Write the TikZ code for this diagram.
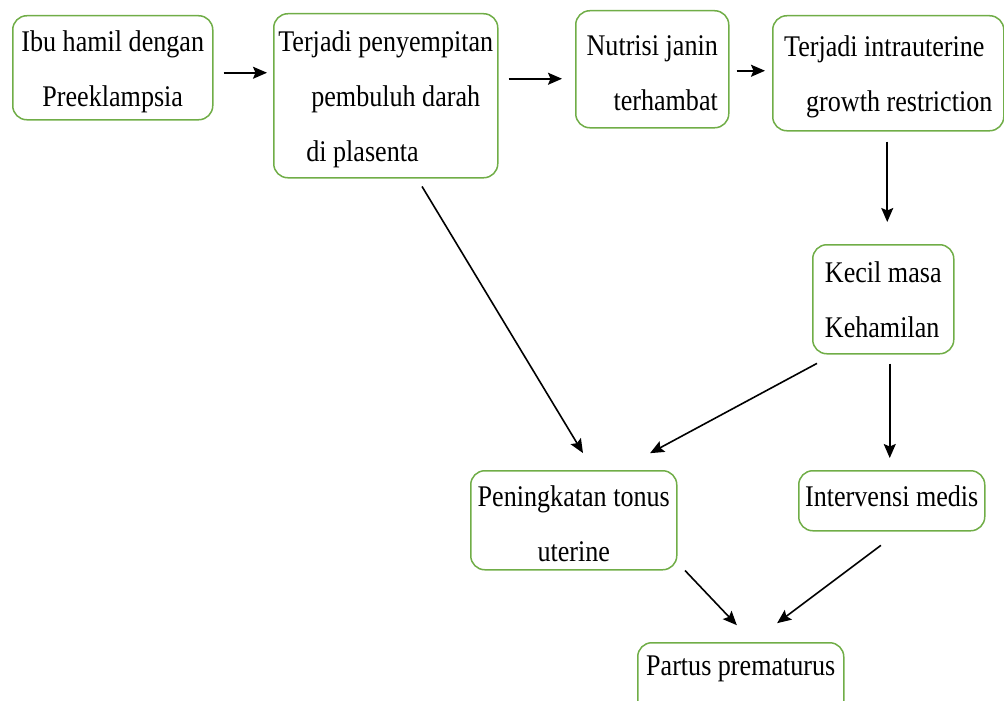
\documentclass[tikz,border=0pt]{standalone}
\usepackage{fontspec}
\newfontfamily\diafont{Liberation Serif}[FakeStretch=0.87]
\usetikzlibrary{arrows.meta}
\definecolor{boxgreen}{RGB}{112,173,71}
\newcommand\topstrut{\rule{0pt}{28pt}}
\tikzset{
  box/.style={draw=boxgreen, line width=1.5pt, rounded corners=14pt, inner sep=0pt,
    anchor=north west, font=\diafont\fontsize{30}{55}\selectfont},
  arr/.style={draw=black, line width=1.6pt, -{Stealth[length=14pt,width=12pt,inset=2.5pt]}}
}
\begin{document}
\begin{tikzpicture}[x=1pt,y=-1pt]
\useasboundingbox (0,0) rectangle (1004,701);
\node[box, minimum width=200pt, minimum height=104pt, align=center] (b1) at (12,15)
  {\topstrut Ibu hamil dengan\\Preeklampsia};
\node[box, minimum width=224pt, minimum height=164pt, align=left] (b2) at (273,13)
  {\topstrut Terjadi penyempitan\\\hspace*{33pt}pembuluh darah\\\hspace*{28pt}di plasenta};
\node[box, minimum width=153pt, minimum height=117pt, align=right] (b3) at (575,10)
  {\topstrut Nutrisi janin\\terhambat};
\node[box, minimum width=231pt, minimum height=115pt, align=left] (b4) at (772,15)
  {\topstrut Terjadi intrauterine\\\hspace*{22pt}growth restriction};
\node[box, minimum width=141pt, minimum height=109pt, align=left] (b5) at (812,244)
  {Kecil masa\\Kehamilan};
\node[box, minimum width=206pt, minimum height=99pt, align=center] (b6) at (470,470)
  {\topstrut Peningkatan tonus\\uterine};
\node[box, minimum width=186pt, minimum height=60pt, align=center] (b7) at (798,470)
  {Intervensi medis\rule[-10pt]{0pt}{0pt}};
\node[box, minimum width=206pt, text height=33pt, text depth=50pt] (b8) at (637,642)
  {Partus prematurus};
% connectors
\draw[arr, shorten <=10pt, shorten >=6pt] ([yshift=-5pt]b1.east) -- ([yshift=-5pt]b1.east -| b2.west);
\draw[arr, shorten <=10pt, shorten >=13pt] ([yshift=17pt]b2.east) -- ([yshift=17pt]b2.east -| b3.west);
\draw[arr, shorten <=7pt, shorten >=7pt] ([yshift=-1.5pt]b3.east) -- ([yshift=-1.5pt]b3.east -| b4.west);
\draw[arr, shorten <=10pt, shorten >=22pt] ([xshift=-1pt]b4.south) -- ([xshift=-1pt]b4.south |- b5.north);
\draw[arr, shorten <=9.3pt, shorten >=19.8pt] ([xshift=144.2pt]b2.south west) -- ([xshift=123.2pt]b6.north west);
\draw[arr, shorten <=18.8pt, shorten >=35.5pt] ([xshift=21.5pt]b5.south west) -- ([xshift=148.8pt]b6.north west);
\draw[arr, shorten <=9pt, shorten >=12pt] ([xshift=6.5pt]b5.south) -- ([xshift=6.5pt]b5.south |- b7.north);
\draw[arr, shorten >=23.2pt] ([xshift=215pt]b6.south west) -- ([xshift=115.8pt]b8.north west);
\draw[arr, shorten <=23.1pt, shorten >=31.4pt] ([xshift=101.4pt]b7.south west) -- ([xshift=115pt]b8.north west);
\end{tikzpicture}
\end{document}
